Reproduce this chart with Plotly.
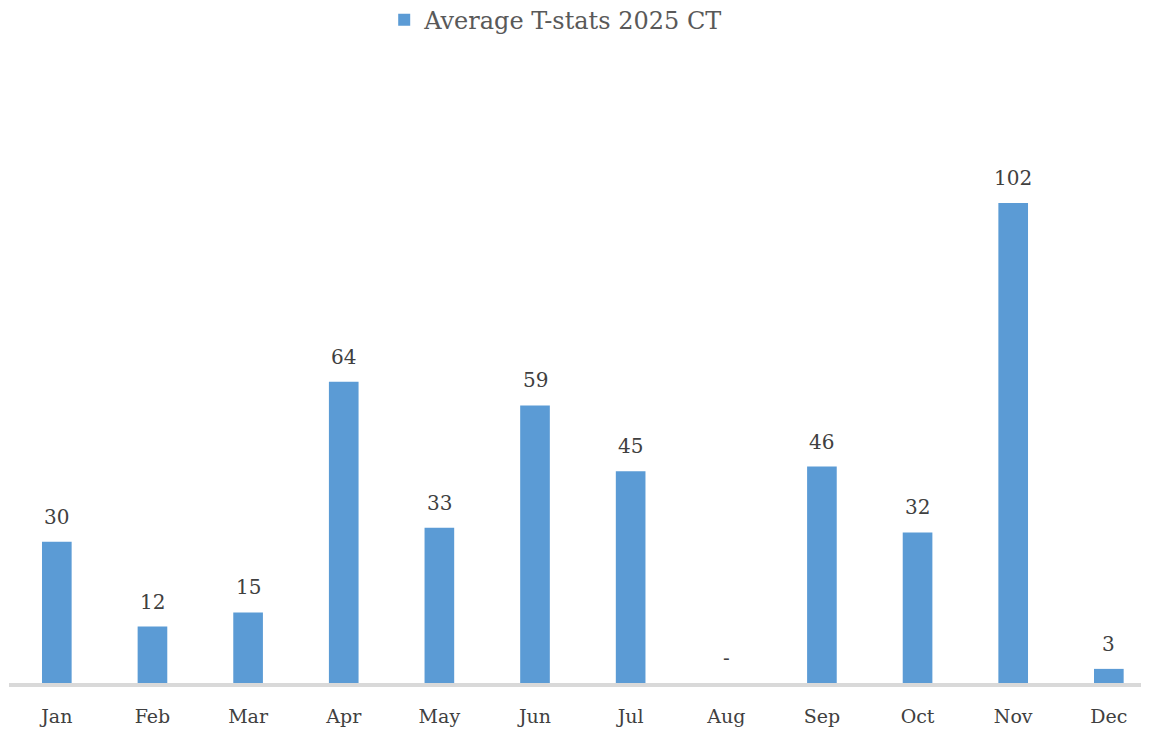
import plotly.graph_objects as go

months = ["Jan", "Feb", "Mar", "Apr", "May", "Jun", "Jul", "Aug", "Sep", "Oct", "Nov", "Dec"]
values = [30, 12, 15, 64, 33, 59, 45, 0, 46, 32, 102, 3]
labels = ["30", "12", "15", "64", "33", "59", "45", "-", "46", "32", "102", "3"]
series_name = "Average T-stats 2025 CT"

FONT = "DejaVu Serif"

fig = go.Figure()
fig.add_trace(go.Bar(
    x=months, y=values, name=series_name,
    marker=dict(color="#5B9BD5", line=dict(width=0)),
    width=0.31,
    showlegend=True,
))

for m, v, t in zip(months, values, labels):
    fig.add_annotation(x=m, y=v, text=t, showarrow=False, yanchor="bottom",
                       yshift=11, font=dict(family=FONT, size=20, color="#404040"))

fig.update_layout(
    width=1141, height=724,
    margin=dict(l=1, r=0, t=52, b=49, autoexpand=False),
    plot_bgcolor="white", paper_bgcolor="white",
    font=dict(family=FONT, color="#404040"),
    showlegend=True,
    legend=dict(orientation="h", x=0.48, xanchor="center", y=1.064, yanchor="middle",
                font=dict(family=FONT, size=24, color="#595959")),
    xaxis=dict(range=[-0.5, 11.42], showline=True, linecolor="#D9D9D9", linewidth=4,
               ticks="outside", ticklen=13, tickcolor="rgba(0,0,0,0)",
               tickfont=dict(family=FONT, size=19, color="#404040"),
               showgrid=False, zeroline=False),
    yaxis=dict(range=[0, 132.4], visible=False, showgrid=False, zeroline=False),
)

fig.write_html("out.html")
